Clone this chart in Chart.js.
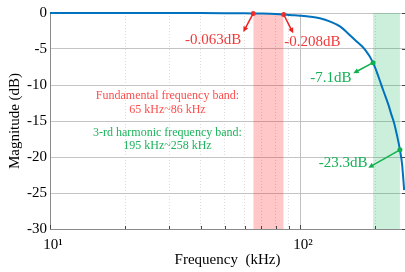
<!DOCTYPE html>
<html>
<head>
<meta charset="utf-8" />
<title>Magnitude response</title>
<script src="https://cdn.jsdelivr.net/npm/chart.js@4.4.0/dist/chart.umd.min.js"></script>
<style>
  html, body { margin: 0; padding: 0; background: #fff; }
</style>
</head>
<body>
<canvas id="myChart" width="405" height="272"></canvas>
<script>
// filter magnitude response (kHz / dB)
const freqs = [10, 20, 30, 40, 50, 60, 65, 70, 80, 86, 91, 100, 110, 120, 132, 145, 158, 166, 182, 196, 206, 215, 226, 231, 238, 244, 251, 256, 261];
const mags = [0, 0, -0.005, -0.015, -0.03, -0.05, -0.063, -0.08, -0.14, -0.208, -0.28, -0.38, -0.52, -0.74, -1.2, -1.9, -3.05, -3.75, -5.1, -6.9, -8.85, -10.7, -12.8, -13.9, -15.3, -16.9, -19.0, -21.0, -24.6];

// shaded bands (kHz)
const redBand = [65, 86];
const greenBand = [196, 251];

// marked points
const redMarkFreq = [65, 86];
const redMarkMag = [-0.063, -0.208];
const greenMarkFreq = [196, 251];
const greenMarkMag = [-6.9, -19.0];

// axis ticks
const xMajor = [10, 100];
const xMajorLabels = ['10\u00b9', '10\u00b2'];
const xMinor = [20, 30, 40, 50, 60, 70, 80, 90, 200];
const yTicks = [0, -5, -10, -15, -20, -25, -30];

const redTxt = '#f03a3a';
const greenTxt = '#13b055';
const serif = "'Liberation Serif', 'Times New Roman', serif";

// annotation texts: position in data units (kHz, dB)
const notes = [
  { text: '-0.063dB', f: 44.9, db: -3.75, color: redTxt, size: 15 },
  { text: '-0.208dB', f: 112, db: -4.0, color: redTxt, size: 15 },
  { text: '-7.1dB', f: 133, db: -9.0, color: greenTxt, size: 15 },
  { text: '-23.3dB', f: 148.6, db: -20.8, color: greenTxt, size: 15 },
  { text: 'Fundamental frequency band:', f: 29.5, db: -11.5, color: '#ff4d4d', size: 12 },
  { text: '65 kHz~86 kHz', f: 29.5, db: -13.4, color: '#ff4d4d', size: 12 },
  { text: '3-rd harmonic frequency band:', f: 29.5, db: -16.6, color: '#1cb35c', size: 12 },
  { text: '195 kHz~258 kHz', f: 29.5, db: -18.5, color: '#1cb35c', size: 12 }
];

// arrows from marked point to label
const arrows = [
  { from: [65, -0.063], to: [59.3, -2.64], color: '#ee2222' },
  { from: [86, -0.208], to: [94, -2.82], color: '#ee2222' },
  { from: [196, -6.9], to: [163.3, -8.37], color: '#10b050' },
  { from: [251, -19.0], to: [187.6, -21.5], color: '#10b050' }
];

const extras = {
  id: 'extras',
  afterDatasetsDraw(chart) {
    const { ctx, chartArea, scales } = chart;
    const xs = scales.x, ys = scales.y;
    ctx.save();
    // inward ticks on bottom and right
    ctx.strokeStyle = '#444';
    ctx.lineWidth = 1;
    xMinor.concat(xMajor).forEach(v => {
      const px = Math.round(xs.getPixelForValue(v)) + 0.5;
      ctx.beginPath();
      ctx.moveTo(px, chartArea.bottom);
      ctx.lineTo(px, chartArea.bottom - (xMajor.includes(v) ? 4 : 3));
      ctx.stroke();
    });
    yTicks.forEach(v => {
      const py = Math.round(ys.getPixelForValue(v)) + 0.5;
      ctx.beginPath();
      ctx.moveTo(chartArea.right, py);
      ctx.lineTo(chartArea.right - 3, py);
      ctx.stroke();
    });
    // arrows
    arrows.forEach(a => {
      const x1 = xs.getPixelForValue(a.from[0]), y1 = ys.getPixelForValue(a.from[1]);
      const x2 = xs.getPixelForValue(a.to[0]), y2 = ys.getPixelForValue(a.to[1]);
      const ang = Math.atan2(y2 - y1, x2 - x1);
      const head = 6;
      ctx.strokeStyle = a.color;
      ctx.fillStyle = a.color;
      ctx.lineWidth = 1.5;
      ctx.beginPath();
      ctx.moveTo(x1, y1);
      ctx.lineTo(x2 - Math.cos(ang) * head * 0.8, y2 - Math.sin(ang) * head * 0.8);
      ctx.stroke();
      ctx.beginPath();
      ctx.moveTo(x2, y2);
      ctx.lineTo(x2 - head * Math.cos(ang - 0.45), y2 - head * Math.sin(ang - 0.45));
      ctx.lineTo(x2 - head * Math.cos(ang + 0.45), y2 - head * Math.sin(ang + 0.45));
      ctx.closePath();
      ctx.fill();
    });
    // texts
    ctx.textAlign = 'center';
    ctx.textBaseline = 'middle';
    notes.forEach(n => {
      ctx.font = n.size + 'px ' + serif;
      ctx.fillStyle = n.color;
      ctx.fillText(n.text, xs.getPixelForValue(n.f), ys.getPixelForValue(n.db));
    });
    ctx.restore();
  }
};

const band = (range, color) => ({
  type: 'line',
  data: range.map(f => ({ x: f, y: 0 })),
  fill: { value: -30 },
  backgroundColor: color,
  borderColor: 'rgba(0,0,0,0)',
  borderWidth: 0,
  pointRadius: 0,
  order: 10
});

const marks = (fs, ms, color) => ({
  type: 'line',
  data: fs.map((f, i) => ({ x: f, y: ms[i] })),
  showLine: false,
  pointRadius: 2.5,
  pointBackgroundColor: color,
  pointBorderColor: color,
  pointBorderWidth: 0,
  clip: 5,
  order: 0
});

const ctx = document.getElementById('myChart').getContext('2d');
new Chart(ctx, {
  type: 'line',
  data: {
    datasets: [
      {
        data: freqs.map((f, i) => ({ x: f, y: mags[i] })),
        borderColor: '#0072bd',
        borderWidth: 2,
        pointRadius: 0,
        cubicInterpolationMode: 'monotone',
        fill: false,
        clip: 4,
        order: 1
      },
      band(redBand, 'rgba(255,0,0,0.22)'),
      band(greenBand, 'rgba(0,176,80,0.2)'),
      marks(redMarkFreq, redMarkMag, '#f03030'),
      marks(greenMarkFreq, greenMarkMag, '#10b050')
    ]
  },
  options: {
    responsive: false,
    animation: false,
    devicePixelRatio: 1,
    layout: { autoPadding: false, padding: { top: 13, right: 0, left: 0, bottom: 0 } },
    plugins: { legend: { display: false }, tooltip: { enabled: false } },
    scales: {
      x: {
        type: 'logarithmic',
        min: 10,
        max: 263,
        afterBuildTicks: s => {
          s.ticks = xMajor.concat(xMinor).sort((a, b) => a - b).map(v => ({ value: v }));
        },
        afterFit: s => {
          s.height = 43;
          s.paddingLeft = 0;
          s.paddingRight = 0;
        },
        ticks: {
          autoSkip: false,
          maxRotation: 0,
          padding: 7,
          labelOffset: 3,
          color: '#000',
          font: { family: serif, size: 15 },
          callback: v => {
            const i = xMajor.indexOf(v);
            return i >= 0 ? xMajorLabels[i] : '';
          }
        },
        grid: {
          drawTicks: false,
          color: c => (c.tick && xMajor.includes(c.tick.value)) ? '#c0c0c0' : '#dcdcdc'
        },
        border: {
          color: '#8a8a8a',
          dash: c => (c.tick && !xMajor.includes(c.tick.value)) ? [1, 2] : []
        },
        title: {
          display: true,
          text: 'Frequency  (kHz)',
          color: '#000',
          font: { family: serif, size: 15 },
          padding: { top: 0, bottom: 3 }
        }
      },
      y: {
        min: -30,
        max: 0,
        afterBuildTicks: s => { s.ticks = yTicks.map(v => ({ value: v })); },
        afterFit: s => { s.width = 50; },
        ticks: {
          padding: 3,
          color: '#000',
          font: { family: serif, size: 15 }
        },
        grid: { drawTicks: false, color: '#c4c4c4' },
        border: { color: '#8a8a8a' },
        title: {
          display: true,
          text: 'Magnitude (dB)',
          color: '#000',
          font: { family: serif, size: 15 },
          padding: { top: 6, bottom: 0 }
        }
      }
    }
  },
  plugins: [extras]
});
</script>
</body>
</html>
